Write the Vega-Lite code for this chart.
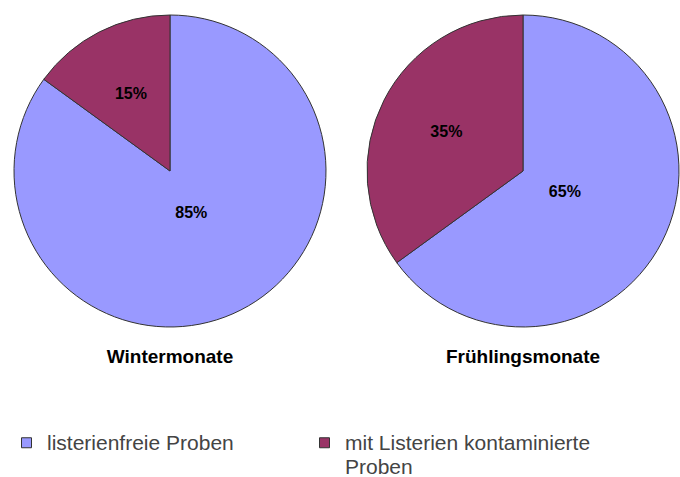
{
  "$schema": "https://vega.github.io/schema/vega-lite/v6.json",
  "padding": {"left": 10, "top": 13, "right": 0, "bottom": 0},
  "background": "white",
  "data": {"values": [
    {"season": "Wintermonate", "category": "listerienfreie Proben", "share": 0.85},
    {"season": "Wintermonate", "category": "mit Listerien kontaminierte Proben", "share": 0.15},
    {"season": "Frühlingsmonate", "category": "listerienfreie Proben", "share": 0.65},
    {"season": "Frühlingsmonate", "category": "mit Listerien kontaminierte Proben", "share": 0.35}
  ]},
  "facet": {
    "column": {
      "field": "season", "type": "nominal",
      "sort": ["Wintermonate", "Frühlingsmonate"],
      "title": null,
      "header": {"labelOrient": "bottom", "labelFontSize": 19, "labelFontWeight": "bold", "labelFont": "Liberation Sans", "labelColor": "#000", "labelPadding": 19}
    }
  },
  "spacing": 33,
  "spec": {
    "width": 320,
    "height": 312,
    "layer": [
      {
        "mark": {"type": "arc", "stroke": "#333", "strokeWidth": 1},
        "encoding": {
          "theta": {"field": "share", "type": "quantitative", "stack": true},
          "order": {"field": "category", "type": "ordinal", "sort": "ascending"},
          "color": {
            "field": "category", "type": "nominal",
            "scale": {"domain": ["listerienfreie Proben", "mit Listerien kontaminierte Proben"], "range": ["#9999FF", "#993366"]},
            "legend": {
              "title": null, "orient": "none", "legendX": 6, "legendY": 417,
              "direction": "horizontal", "columns": 2, "columnPadding": 80,
              "symbolType": "square", "symbolSize": 100, "symbolStrokeColor": "#333", "symbolStrokeWidth": 1,
              "labelFont": "Liberation Sans", "labelFontSize": 21, "labelColor": "#444", "labelLimit": 400, "labelOffset": 10,
              "labelBaseline": "top",
              "labelExpr": "datum.label == 'mit Listerien kontaminierte Proben' ? ['mit Listerien kontaminierte', 'Proben'] : [datum.label, ' ']",
              "encode": {"labels": {"update": {"dy": {"value": -10}, "lineHeight": {"value": 24}}}}
            }
          }
        }
      },
      {
        "mark": {"type": "text", "font": "Liberation Sans", "fontSize": 16, "fontWeight": "bold", "color": "#000"},
        "encoding": {
          "theta": {"field": "share", "type": "quantitative", "stack": true},
          "order": {"field": "category", "type": "ordinal", "sort": "ascending"},
          "detail": {"field": "category"},
          "radius": {"field": "share", "type": "quantitative", "scale": {"type": "linear", "zero": false, "domain": [0.35, 0.65], "range": [86, 47], "clamp": true}, "legend": null},
          "text": {"field": "share", "type": "quantitative", "format": ".0%"}
        }
      }
    ]
  },
  "config": {"view": {"stroke": null}}
}
